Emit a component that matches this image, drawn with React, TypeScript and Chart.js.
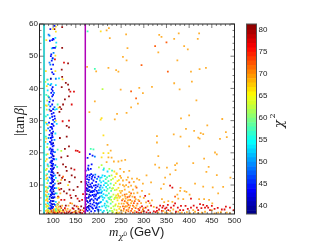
import React, { useEffect, useRef } from "react";
import { Chart, registerables } from "chart.js";

Chart.register(...registerables);

const cyanLine = [[80, 1], [80, 60]];
const purpleLine = [[171, 1], [171, 60]];

const navyPoints = [
  [96,3],[98,4],[99,5],[97,6],[100,6],[95,7],[98,7.5],[101,8],[97,9],[99,9.5],[96,10.5],[100,11],[98,12],[97,13],[99,14],[100,15],[96,16],[98,17.5],[101,19],[97,21],[100,23],[98,26],[95,43],[96,28],
  [172,4],[175,5],[178,6],[174,7.2],[177,8.1],[173,9],[176,10],[180,7],[182,5.3],[172,11],[171.5,6],[179,3.5],[173,2.4],[184,8],[176,3.2],[181,9.4],
];
const bluePoints = [
  [94,2.6],[97,3.4],[100,3.2],[102,4.1],[93,4.6],[95,5.1],[101,5],[103,6.2],[93,6.4],[96,6.8],[99,7.2],[102,7.1],[94,8.2],[100,8.6],[103,9],[95,9.4],[98,9.2],[101,10],[94,10.6],[98,10.9],[102,11.6],[96,12],[100,12.7],[95,13.2],[101,13.6],[97,14.4],[95,15],[102,15.4],[98,15.7],[100,16.6],[94,17],[97,17.6],[102,18],[96,18.6],[99,19.1],[95,19.8],[100,20.4],[97,20.9],[94,21.4],[99,22],[96,22.6],[101,22.2],[93,23.4],[97,23.9],[95,24.6],[99,24.9],[92,25.6],[96,26.1],[100,26.6],[93,26.9],[98,27.4],[94,28],[101,28.4],[97,29],[91,29.4],
  [96,4.2],[98,2.8],[94,3.6],[99,6.2],[97,7.8],[95,8.6],[100,9.8],[98,11.4],[97,12.4],[99,12.9],[96,14],[98,14.8],[99,16.2],[97,16.8],[96,17.4],[100,18.2],[98,19.6],[96,20.4],[99,21],[98,22.8],[97,24.8],[95,23.2],[98,25.4],[97,27.8],[99,28.9],
  [100,30.2],[104,30.6],[98,31.2],[103,31.4],[97,32.1],[101,32.4],[96,33],[100,33.6],[94,34.4],[98,35],[92,35.8],[100,36.2],[98,37.5],[100,38],[96,38.6],[99,39.2],[97,39.8],[99,40.4],[101,44.4],[98,45],[96,46],[100,47.4],[97,48.6],[95,50],[96,50.6],[99,49.4],[100,52.6],[104,52.6],[101,55.2],[98,55],[100,55.4],[93,54.8],[103,59.4],[94,58.4],
  [173,3],[176,2],[180,2.4],[184,1.8],[188,2.7],[192,2],[196,3.1],[200,2.3],[183,3.4],[187,4],[191,3.6],[195,4.4],[199,4.2],[172,5.4],[177,4.6],[181,5],[185,5.6],[189,5.2],[193,5.8],[197,5.4],[201,6],[174,6],[179,6.4],[183,6.6],[187,6.9],[191,7],[195,7.1],[171.5,8],[176,8.8],[180,8.4],[184,9.6],[188,8.2],[192,8.6],[196,8.2],[173,10.4],[178,10.8],[182,10.2],[186,10.6],[190,9.8],[194,10],[198,9.6],[175,11.8],[179,11.6],[185,11.9],[189,11.4],[195,11],[174,12.6],[181,13.1],[186,12.5],[176,13.1],[172,14.5],[178,14.7],[200,12.6],[192,12.4],[181,19.6],[187,19.1],[178,16],
  [186,3],[190,4.6],[194,2.8],[178,2.9],[182,4.2],[186,7.8],[190,6.4],[194,6.6],[198,7.6],[178,9.4],[182,7.8],[186,9.2],[190,8],[194,9.2],[174,8.4],[180,12.4],[184,13.4],[188,13],[177,15.2],[183,15],[176,18.4],[185,16.4],
];
const azurePoints = [
  [91,2.8],[104,3.8],[92,5.6],[105,7.4],[92,9.6],[104,10.4],[92,12.4],[104,13],[91,14.2],[105,16.2],[92,18.4],[104,20.2],[92,21],[103,24],[90,24.6],[89,27.6],[103,29.6],
  [93,30.8],[92,33.4],[103,34.2],[94,36.6],[91,37.2],[102,38.6],[94,41],[106,43],[92,48],[101,51],[90,56.7],[92,56.4],[94,47.4],
  [198,2.4],[202,3.2],[204,4.6],[203,6.4],[199,7.4],[201,8.4],[200,10.2],[203,9.2],[192,18.8],[197,11.9],[193,13.2],[202,7.6],[197,3.8],[201,4.4],[198,5.8],[206,7.6],[200,1.8],[205,9.8],
];
const cyanPoints = [
  [88,4.4],[106,4.8],[90,7.2],[107,9],[89,11.4],[106,12.2],[88,16.4],[107,18],[88,22.8],[105,26],[86,29],[108,29],
  [88,31.8],[104,33.4],[108,33.6],[90,35],[88,39.4],[106,41],[96,41.4],[89,41.3],[113,43.1],[88,42.7],[105,55.7],[99,49.2],[97,52.4],[107,54.2],
  [205,2.2],[208,3.4],[212,2],[216,3],[206,4.8],[210,5.4],[214,4.2],[218,5],[207,6.6],[211,7.2],[216,6.8],[205,8.6],[209,9.2],[213,8.4],[217,9.4],[206,10.8],[211,11.2],[215,10.6],[204,12.2],[209,13],[203,11.4],[211,14.7],[220,14.2],[214,12.8],[207,12.4],[209,1.6],[213,3.6],[209,6.2],[213,6],[208,8],[212,10],
];
const tealPoints = [
  [86,6.4],[108,7.4],[87,13.4],[109,15.6],[85,19.4],[110,21],[84,25],[90,4],[89,9],[90,15.8],[106,2.4],
  [84,31.3],[110,35],[85,38],[89,37.6],[106,53],[176,57.7],[192,46.1],[183,21.2],[189,21.1],
  [219,2.2],[222,3.4],[225,2],[220,4.6],[224,5.6],[227,4.2],[219,6.8],[223,7.4],[226,6.2],[220,8.8],[225,9.2],[218,10.6],[222,11.2],[227,10.4],[219,12.4],[224,12.8],[230,14.5],[216,11.8],[212,15.2],[228,8.2],[221,1.5],[218,3.6],[222,6],[218,8.2],[221,10],
];
const limePoints = [
  [85,3.2],[110,3.8],[86,8.4],[110,11.2],[84,14.6],[118,20.6],[87,21.8],[88,2.6],[89,6.4],[87,10.6],[92,1.8],[107,2],[115,2.4],
  [86,33.4],[87,36.2],[83,42],[87,42.7],[209,39.8],[207,16.2],[201,15.5],
  [230,2],[233,3.4],[228,2.8],[231,4.8],[235,5.6],[229,6.4],[233,7],[236,8.4],[230,8.9],[234,10],[228,11.6],[232,12],[229,13],[224,15],[238,6.2],[237,3.6],[232,1.6],[228,5.4],[232,9],[235,2.4],
];
const yellowPoints = [
  [84,2],[87,3.6],[108,2.8],[83,5.2],[86,5.4],[110,6],[84,9.4],[112,9],[85,11.8],[83,17.4],[86,18],[85,24.4],[88,28.6],
  [90,2.6],[87,5.8],[89,3.4],[84,7],[87,12.2],[86,15],[88,19.6],[90,1.4],[103,2.4],[110,1.8],[117,2],
  [84,29.4],[106,30],[84,34.7],[112,34],[86,34.6],[90,37.2],[86,40.7],[121,42.8],[84,45.4],[105,45.4],[85,55],[105,50.2],[106,57.6],[100,58.4],[106,59.2],[85,27],[133,10],
  [205,57.7],[207,30.8],[205,30.3],[240,2.2],[243,3.4],[238,4],[242,5.2],[245,4.2],[239,6.8],[243,7.2],[240,8.6],[244,9.1],[247,8.2],[238,10.6],[242,11.2],[237,12.5],[240,13.4],[211,25.4],[222,19.9],[211,19.9],[207,18.6],[235,14.2],[245,11.5],[241,1.5],[246,2.6],[236,6],[241,6],[246,6],[238,1.3],[243,1.2],
];
const orangePoints = [
  [86,2.1],[90,1.7],[107,1.5],[111,2.4],[84,4],[113,4.6],[87,7.8],[116,7.4],[83,8],[118,11.6],[85,13],[88,16],[83,23.4],[122,1.7],[127,2.3],[134,3.6],[142,4.2],[150,2],[155,3.2],
  [86,3.4],[89,2],[88,5],[85,6.6],[87,9.2],[94,1.6],[98,1.4],[102,1.8],[106,3.4],[112,3.2],[120,3.6],[132,2.6],[146,1.6],[156,1.8],[165,2.2],[138,2.2],
  [175,46.7],[195,45.3],[218,58],[223,58.7],[225,55.6],[261,56.8],[264,52.5],[334,56.6],[332,51.2],[254,49.8],[262,48.7],[222,46.4],[239,45.7],[244,45.2],[249,39.6],[290,40.2],[318,40.5],[298,38.5],[287,35.3],[192,36],[272,34.1],[262,32.4],[241,32.1],[180,32.6],[236,30.4],
  [339,56],[377,57.1],[422,57.1],[367,55.4],[419,55.4],[389,53.1],[397,52.1],[374,48.7],[437,46.4],[423,46],[404,45.2],[406,42.1],[367,41.6],[379,39.7],[416,36.3],[400,31.6],[382,30.7],[473,30.5],
  [393,27.4],[411,26.8],[440,28.5],[425.5,26.1],[431,25.8],[481,26.4],[483,24.9],[468,24.3],[366,25.7],[381,25],[420,24.7],[423,24.4],[329,25.2],[329,23.2],[400,22],[332,19],[457,20.1],[461,19.5],[433,18.2],[409,16.8],[373,16.7],[369,16.2],[325,16.3],[334,15.4],[351,15.4],[443,15.6],[438,14.1],[370,14.6],[358,13.3],[461,13.1],[491,12.3],[347,12.3],[413,10.4],[344,10.3],[338,8.9],[381,9.1],[431,9.5],[452,9.3],[475,9.4],[390,8.1],[394,7.9],[401,7],[464,7.4],[374,7],[387,5.6],[422,5.6],[433,5.6],[444,5.4],[380,8.2],[354,5],[363,4.8],[345,4.7],[451,4.3],[376,5.8],
  [332,1.4],[347,1.4],[365,2.4],[363,1.2],[376,1.7],[384,1.4],[409,2.2],[413,1.7],[428,1.4],[450,2.2],[456,1.2],[483,1.4],[464,1.4],[490,1.2],[435,1.7],[340,5.6],[322,3.2],[318,5.2],[312,7.2],[305,4.6],[300,6],[298,10.4],[306,13],[316,10.8],[352,1.3],[395,1.6],[402,1.3],[420,1.3],[470,1.6],[343,2],[358,2],
  [220,22.5],[227,20.7],[229,18.5],[234,17.3],[244,17.3],[251,17.6],[259,17.8],[218,17.1],[222,18.6],[240,13.6],[248,15],[256,14.1],[268,14.4],[262,11.6],[274,12],[282,9.6],[290,11.6],[250,12.2],[254,10],[258,8.6],[262,7.2],[266,9.4],[270,6.8],[248,6.4],[251,4.2],[254,5.6],[258,3.2],[262,4.6],[266,2.4],[270,3.6],[274,5],[278,3.2],[282,5.6],[286,7.6],[250,2.2],[255,2],[248,3.2],[260,1.6],[276,8.6],[292,6.4],[296,8.2],[244,6.6],[247,10.2],[252,8.2],[260,5.8],[268,5.4],
  [249,7.6],[253,6.8],[256,4.2],[259,6.4],[263,3.4],[265,5.2],[268,7.8],[272,4.4],[275,6.4],[278,7.4],[280,2],[284,3.6],[288,5.4],[246,1.4],[252,1.2],[257,9.6],[261,10],[265,12.4],[272,9.8],[278,11],[285,12],[248,12.8],[254,11.4],[300,2.8],[296,1.8],[294,4.4],[308,3.4],[313,4.4],
];
const deepOrangePoints = [
  [325,53.1],[295,47.2],[272,39.1],[283,36.9],[350,54.3],[353,45.2],[369,6.4],
  [254,3.4],[258,5],[262,2.2],[266,3.8],[270,5.4],[274,2.6],[278,4.4],[282,2.8],[286,4.2],[264,6.2],[272,7.4],[280,6.2],[284,9.2],[290,5],[258,7],[266,1.8],[276,1.4],[252,5.2],[288,2.6],[268,10.8],
  [260,3.4],[268,3],[272,2],[276,3.6],[280,5],[256,2.6],[264,4.4],[268,6.4],[288,1.4],[292,3],[298,2.4],
  [88,1.6],[112,1.4],[118,2.8],[130,1.8],[105,2],[112,6.2],[122,12.6],[138,4.4],[86,1.2],[96,2.2],[101,2.4],
];
const redPoints = [
  [92,1.3],[96,1.7],[100,1.4],[104,1.6],[108,1.2],[114,1.7],[118,1.3],[124,1.5],[130,1.2],[136,1.8],[142,1.4],[148,1.7],[152,1.2],[158,1.6],[164,1.3],[168,1.8],[145,2.6],[152,3.4],[160,2.2],[126,2.8],[154,5.8],[164,5.4],[114,8.6],[118,5.4],[125,5.4],[138,6.8],[150,20.7],[158,20.2],[154,20.6],[135,30],[141,35],[146,39],[121,29.8],[138,39],[124,48],[94,33],[104,49],[166,7.2],[147,14.8],
  [290,2.2],[296,3.4],[300,1.8],[304,3],[310,2.2],[316,3.6],[322,1.8],[284,1.6],[294,1.4],[358,9.8],[363,9.2],[404,5.8],
  [328.5,3],[333.6,2.4],[343,3.5],[353,3.8],[360,3],[369,4.3],[382,3.5],[392,3.5],[397,2.6],[417,3],[424,4.1],[439,3.5],[450,3.5],[463,2.9],[472,2.4],[481,3.3],[498,2.2],[420,2.2],[354,2.2],[340,2],[371,1.7],[329,2],[347,2.7],[387,2.2],[431,3.8],[442,3],[404,3],[446,2.2],[341,3],[310,5],[303,6.6],
  [306,1.5],[314,1.4],[326,1.6],[336,3.6],[350,3],[366,3.6],[375,3],[380,2.2],[410,3.6],[427,2.8],[435,3],[456,2.6],[478,2.4],[490,3],
];
const darkRedPoints = [
  [120,59],[103,58.4],[120,52.6],[133,47.8],[119,45.8],[120,43.6],[119,40.4],[128,41.7],[133,41.2],[135,39.6],[126,36.6],[122,35],[115,34.2],[114,32.7],[118,33.6],[135,37.5],
  [135,27.9],[130,25],[135,22],[126,21.2],[132,19],[118,18.6],[122,16.4],[128,15.6],[130,14.4],[140,15.2],[110,13.8],[114,13],[120,12.2],[126,11.6],[136,11],[141,13],[116,10.6],[148,12.4],[162,11],[154,9.4],[145,8.4],[112,10.4],[118,8.8],[124,8],[130,7.4],[136,8.6],[158,5],[150,6.6],[143,2.8],[128,3.6],[116,3.4],[110,4],[160,1.4],[134,1.4],[110,1.4],[126,1.2],[168,2.8],[150,1.3],[140,6],[115,24.6],[130,28.4],[111,6.4],
  [104,1.2],[112,2.2],[122,2.2],[139,1.2],[147,3.6],[156,2.6],[162,3.4],
];

const xMajor = [100, 150, 200, 250, 300, 350, 400, 450, 500];
const xMinor = [80, 90, 110, 120, 130, 140, 160, 170, 180, 190, 210, 220, 230, 240, 260, 270, 280, 290, 310, 320, 330, 340, 360, 370, 380, 390, 410, 420, 430, 440, 460, 470, 480, 490];
const yMajor = [10, 20, 30, 40, 50, 60];
const yMinor = [2, 4, 6, 8, 12, 14, 16, 18, 22, 24, 26, 28, 32, 34, 36, 38, 42, 44, 46, 48, 52, 54, 56, 58];
const barMajor = [40, 45, 50, 55, 60, 65, 70, 75, 80];
const barLevels = [38.2, 39, 40, 41, 42, 43, 44, 45, 46, 47, 48, 49, 50, 51, 52, 53, 54, 55, 56, 57, 58, 59, 60, 61, 62, 63, 64, 65, 66, 67, 68, 69, 70, 71, 72, 73, 74, 75, 76, 77, 78, 79, 80, 81];
const barTop = 81.4;

const ink = "#222";

function jet(v: number) {
  const t = Math.max(0, Math.min(1, (v - 38.2) / (barTop - 38.2)));
  const c = (a: number) => Math.round(255 * Math.max(0, Math.min(1, 1.5 - Math.abs(4 * t - a))));
  return `rgb(${c(3)},${c(2)},${c(1)})`;
}

function pts(list: number[][]) {
  return list.map(([x, y]) => ({ x, y }));
}

function scatterSet(list: number[][], color: string) {
  return {
    data: pts(list),
    showLine: false,
    pointStyle: "rect",
    pointRadius: 1.25,
    pointBorderWidth: 0,
    pointBackgroundColor: color,
  };
}

function lineSet(list: number[][], color: string, width: number) {
  return {
    data: pts(list),
    showLine: true,
    borderColor: color,
    borderWidth: width,
    pointRadius: 0,
  };
}

const frame = {
  id: "frame",
  afterDraw(chart: any) {
    const { ctx, chartArea: a, scales } = chart;
    ctx.save();
    ctx.strokeStyle = ink;
    ctx.lineWidth = 1;
    ctx.strokeRect(a.left, a.top, a.right - a.left, a.bottom - a.top);
    ctx.lineWidth = 0.6;
    const mark = (x1: number, y1: number, x2: number, y2: number) => {
      ctx.beginPath();
      ctx.moveTo(x1, y1);
      ctx.lineTo(x2, y2);
      ctx.stroke();
    };
    xMajor.concat(xMinor).forEach((v) => {
      const p = scales.x.getPixelForValue(v);
      const l = xMajor.includes(v) ? 4 : 2;
      mark(p, a.bottom, p, a.bottom - l);
      mark(p, a.top, p, a.top + l);
    });
    yMajor.concat(yMinor).forEach((v) => {
      const p = scales.y.getPixelForValue(v);
      const l = yMajor.includes(v) ? 4 : 2;
      mark(a.left, p, a.left + l, p);
      mark(a.right, p, a.right - l, p);
    });
    // axis titles
    ctx.fillStyle = ink;
    ctx.textBaseline = "alphabetic";
    ctx.textAlign = "left";
    let x = 109;
    const y = 236;
    ctx.font = "italic 13px 'Liberation Serif'";
    ctx.fillText("m", x, y);
    x += ctx.measureText("m").width;
    ctx.font = "italic 8px 'DejaVu Serif'";
    ctx.fillText("χ", x, y + 3);
    x += ctx.measureText("χ").width;
    ctx.font = "6px 'DejaVu Serif'";
    ctx.fillText("0", x, y);
    x += ctx.measureText("0").width + 2.5;
    ctx.font = "13px 'Liberation Sans'";
    ctx.fillText("(GeV)", x, y);
    ctx.translate(24, 136);
    ctx.rotate(-Math.PI / 2);
    let t = 0;
    ctx.font = "14px 'Liberation Serif'";
    ctx.fillText("|tan", t, 0);
    t += ctx.measureText("|tan").width + 1;
    ctx.font = "italic 14px 'Liberation Serif'";
    ctx.fillText("β", t, 0);
    t += ctx.measureText("β").width;
    ctx.font = "14px 'Liberation Serif'";
    ctx.fillText("|", t, 0);
    ctx.restore();
  },
};

const barFrame = {
  id: "barFrame",
  afterDraw(chart: any) {
    const { ctx, chartArea: a } = chart;
    ctx.save();
    ctx.strokeStyle = "#555";
    ctx.lineWidth = 1;
    ctx.strokeRect(a.left, a.top, a.right - a.left, a.bottom - a.top);
    ctx.fillStyle = ink;
    ctx.translate(283, 124);
    ctx.rotate(-Math.PI / 2);
    ctx.textAlign = "center";
    ctx.font = "italic 13px 'DejaVu Serif'";
    ctx.fillText("χ", 0, 0);
    ctx.font = "8px 'DejaVu Serif'";
    ctx.fillText("2", 8, -8);
    ctx.restore();
  },
};

export default function App() {
  const mainRef = useRef<HTMLCanvasElement>(null);
  const barRef = useRef<HTMLCanvasElement>(null);

  useEffect(() => {
    const main = new Chart(mainRef.current as HTMLCanvasElement, {
      type: "scatter",
      data: {
        datasets: [
          lineSet(cyanLine, "#3fd0d0", 2),
          lineSet(purpleLine, "#b000b8", 1.5),
          scatterSet(bluePoints, "#0010ff"),
          scatterSet(navyPoints, "#0000a0"),
          scatterSet(azurePoints, "#0080ff"),
          scatterSet(cyanPoints, "#10e0ff"),
          scatterSet(tealPoints, "#40ffb0"),
          scatterSet(limePoints, "#b8ff40"),
          scatterSet(yellowPoints, "#ffe020"),
          scatterSet(orangePoints, "#ffb030"),
          scatterSet(deepOrangePoints, "#ff6010"),
          scatterSet(redPoints, "#e01010"),
          scatterSet(darkRedPoints, "#951010"),
        ] as any,
      },
      options: {
        animation: false,
        responsive: false,
        layout: { padding: { top: 24, right: 80.5, left: 0, bottom: 0 } },
        plugins: { legend: { display: false }, tooltip: { enabled: false } },
        scales: {
          x: {
            type: "linear",
            min: 70,
            max: 500,
            grid: { display: false, drawTicks: false },
            border: { display: false },
            afterBuildTicks: (s: any) => {
              s.ticks = xMajor.map((value) => ({ value }));
            },
            afterFit: (s: any) => {
              s.height = 31;
            },
            ticks: { color: ink, font: { family: "Liberation Sans", size: 8 }, padding: 2, maxRotation: 0, autoSkip: false },
          },
          y: {
            type: "linear",
            min: 1,
            max: 60,
            grid: { display: false, drawTicks: false },
            border: { display: false },
            afterBuildTicks: (s: any) => {
              s.ticks = yMajor.map((value) => ({ value }));
            },
            afterFit: (s: any) => {
              s.width = 39.5;
            },
            ticks: { color: ink, font: { family: "Liberation Sans", size: 8 }, padding: 1.5, autoSkip: false },
          },
        },
      },
      plugins: [frame],
    } as any);

    const bar = new Chart(barRef.current as HTMLCanvasElement, {
      type: "bar",
      data: {
        labels: ["chi2"],
        datasets: barLevels.map((v, i) => ({
          data: [[v, i + 1 < barLevels.length ? barLevels[i + 1] : barTop]],
          backgroundColor: jet(v + 0.5),
          barPercentage: 1,
          categoryPercentage: 1,
          grouped: false,
          borderWidth: 0,
        })) as any,
      },
      options: {
        animation: false,
        responsive: false,
        layout: { padding: { top: 24, right: 34, left: 246.5, bottom: 31 } },
        plugins: { legend: { display: false }, tooltip: { enabled: false } },
        scales: {
          x: { display: false },
          y: {
            type: "linear",
            position: "right",
            min: 38.2,
            max: barTop,
            grid: { display: false, drawTicks: false },
            border: { display: false },
            afterBuildTicks: (s: any) => {
              s.ticks = barMajor.map((value) => ({ value }));
            },
            afterFit: (s: any) => {
              s.width = 24.5;
            },
            ticks: { color: ink, font: { family: "Liberation Sans", size: 8 }, padding: 2, autoSkip: false },
          },
        },
      },
      plugins: [barFrame],
    } as any);

    return () => {
      main.destroy();
      bar.destroy();
    };
  }, []);

  const canvasStyle: React.CSSProperties = { position: "absolute", left: 0, top: 0, width: 315, height: 245 };
  return (
    <div style={{ position: "fixed", left: 0, top: 0, width: 315, height: 245, background: "#fff" }}>
      <canvas ref={mainRef} width={315} height={245} style={canvasStyle} />
      <canvas ref={barRef} width={315} height={245} style={canvasStyle} />
    </div>
  );
}
